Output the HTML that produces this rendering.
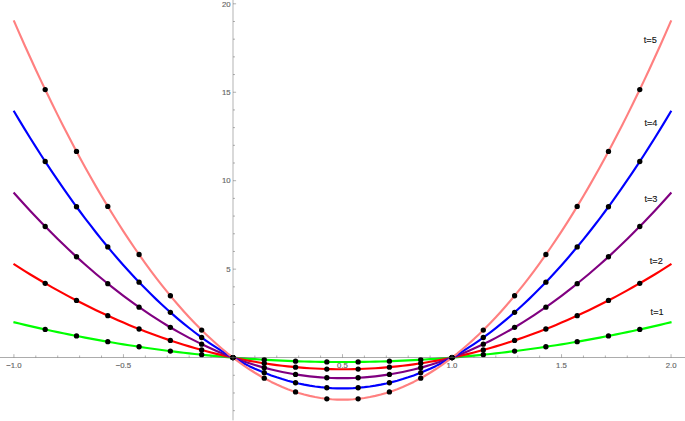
<!DOCTYPE html><html><head><meta charset="utf-8"><title>plot</title><style>html,body{margin:0;padding:0;background:#fff}svg{display:block}</style></head><body>
<svg width="685" height="421" viewBox="0 0 685 421">
<rect width="685" height="421" fill="#fff"/>
<polyline points="13.42,322.10 19.39,323.54 24.86,324.83 30.34,326.10 35.81,327.35 41.29,328.58 46.77,329.78 52.24,330.97 57.72,332.13 63.20,333.27 68.67,334.38 74.15,335.48 79.62,336.55 85.10,337.60 90.58,338.63 96.05,339.63 101.53,340.62 107.01,341.58 112.48,342.52 117.96,343.44 123.44,344.33 128.91,345.21 134.39,346.06 139.86,346.89 145.34,347.69 150.82,348.48 156.29,349.24 161.77,349.98 167.25,350.70 172.72,351.40 178.20,352.07 183.67,352.72 189.15,353.35 194.63,353.96 200.10,354.55 205.58,355.11 211.06,355.65 216.53,356.17 222.01,356.67 227.48,357.15 232.96,357.60 238.44,358.03 243.91,358.44 249.39,358.83 254.87,359.19 260.34,359.53 265.82,359.86 271.29,360.15 276.77,360.43 282.25,360.68 287.72,360.92 293.20,361.13 298.68,361.31 304.15,361.48 309.63,361.62 315.10,361.75 320.58,361.85 326.06,361.92 331.53,361.98 337.01,362.01 342.49,362.02 347.96,362.01 353.44,361.98 358.91,361.92 364.39,361.85 369.87,361.75 375.34,361.62 380.82,361.48 386.30,361.31 391.77,361.13 397.25,360.92 402.72,360.68 408.20,360.43 413.68,360.15 419.15,359.86 424.63,359.53 430.11,359.19 435.58,358.83 441.06,358.44 446.53,358.03 452.01,357.60 457.49,357.15 462.96,356.67 468.44,356.17 473.92,355.65 479.39,355.11 484.87,354.55 490.34,353.96 495.82,353.35 501.30,352.72 506.77,352.07 512.25,351.40 517.73,350.70 523.20,349.98 528.68,349.24 534.15,348.48 539.63,347.69 545.11,346.89 550.58,346.06 556.06,345.21 561.54,344.33 567.01,343.44 572.49,342.52 577.96,341.58 583.44,340.62 588.92,339.63 594.39,338.63 599.87,337.60 605.35,336.55 610.82,335.48 616.30,334.38 621.77,333.27 627.25,332.13 632.73,330.97 638.20,329.78 643.68,328.58 649.15,327.35 654.63,326.10 660.11,324.83 665.58,323.54 671.55,322.10" fill="none" stroke="#00ff00" stroke-width="2.15" stroke-linejoin="round"/>
<polyline points="13.49,263.96 19.39,267.70 24.86,271.12 30.34,274.47 35.81,277.77 41.29,281.01 46.77,284.19 52.24,287.31 57.72,290.37 63.20,293.38 68.67,296.33 74.15,299.22 79.62,302.05 85.10,304.82 90.58,307.53 96.05,310.19 101.53,312.78 107.01,315.32 112.48,317.80 117.96,320.22 123.44,322.59 128.91,324.89 134.39,327.14 139.86,329.33 145.34,331.46 150.82,333.53 156.29,335.54 161.77,337.50 167.25,339.39 172.72,341.23 178.20,343.01 183.67,344.73 189.15,346.40 194.63,348.00 200.10,349.55 205.58,351.04 211.06,352.46 216.53,353.84 222.01,355.15 227.48,356.40 232.96,357.60 238.44,358.74 243.91,359.82 249.39,360.84 254.87,361.80 260.34,362.71 265.82,363.55 271.29,364.34 276.77,365.07 282.25,365.74 287.72,366.35 293.20,366.91 298.68,367.40 304.15,367.84 309.63,368.22 315.10,368.54 320.58,368.80 326.06,369.01 331.53,369.15 337.01,369.24 342.49,369.27 347.96,369.24 353.44,369.15 358.91,369.01 364.39,368.80 369.87,368.54 375.34,368.22 380.82,367.84 386.30,367.40 391.77,366.91 397.25,366.35 402.72,365.74 408.20,365.07 413.68,364.34 419.15,363.55 424.63,362.71 430.11,361.80 435.58,360.84 441.06,359.82 446.53,358.74 452.01,357.60 457.49,356.40 462.96,355.15 468.44,353.84 473.92,352.46 479.39,351.04 484.87,349.55 490.34,348.00 495.82,346.40 501.30,344.73 506.77,343.01 512.25,341.23 517.73,339.39 523.20,337.50 528.68,335.54 534.15,333.53 539.63,331.46 545.11,329.33 550.58,327.14 556.06,324.89 561.54,322.59 567.01,320.22 572.49,317.80 577.96,315.32 583.44,312.78 588.92,310.19 594.39,307.53 599.87,304.82 605.35,302.05 610.82,299.22 616.30,296.33 621.77,293.38 627.25,290.37 632.73,287.31 638.20,284.19 643.68,281.01 649.15,277.77 654.63,274.47 660.11,271.12 665.58,267.70 671.48,263.96" fill="none" stroke="#ff0000" stroke-width="2.15" stroke-linejoin="round"/>
<polyline points="13.58,192.51 19.39,199.01 24.86,205.03 30.34,210.95 35.81,216.77 41.29,222.48 46.77,228.09 52.24,233.60 57.72,239.01 63.20,244.31 68.67,249.51 74.15,254.60 79.62,259.60 85.10,264.49 90.58,269.27 96.05,273.96 101.53,278.54 107.01,283.02 112.48,287.39 117.96,291.66 123.44,295.83 128.91,299.90 134.39,303.86 139.86,307.72 145.34,311.48 150.82,315.13 156.29,318.69 161.77,322.14 167.25,325.48 172.72,328.72 178.20,331.86 183.67,334.90 189.15,337.83 194.63,340.67 200.10,343.39 205.58,346.02 211.06,348.54 216.53,350.96 222.01,353.28 227.48,355.49 232.96,357.60 238.44,359.61 243.91,361.51 249.39,363.31 254.87,365.01 260.34,366.61 265.82,368.10 271.29,369.49 276.77,370.78 282.25,371.96 287.72,373.04 293.20,374.02 298.68,374.89 304.15,375.67 309.63,376.34 315.10,376.90 320.58,377.37 326.06,377.73 331.53,377.98 337.01,378.14 342.49,378.19 347.96,378.14 353.44,377.98 358.91,377.73 364.39,377.37 369.87,376.90 375.34,376.34 380.82,375.67 386.30,374.89 391.77,374.02 397.25,373.04 402.72,371.96 408.20,370.78 413.68,369.49 419.15,368.10 424.63,366.61 430.11,365.01 435.58,363.31 441.06,361.51 446.53,359.61 452.01,357.60 457.49,355.49 462.96,353.28 468.44,350.96 473.92,348.54 479.39,346.02 484.87,343.39 490.34,340.67 495.82,337.83 501.30,334.90 506.77,331.86 512.25,328.72 517.73,325.48 523.20,322.14 528.68,318.69 534.15,315.13 539.63,311.48 545.11,307.72 550.58,303.86 556.06,299.90 561.54,295.83 567.01,291.66 572.49,287.39 577.96,283.02 583.44,278.54 588.92,273.96 594.39,269.27 599.87,264.49 605.35,259.60 610.82,254.60 616.30,249.51 621.77,244.31 627.25,239.01 632.73,233.60 638.20,228.09 643.68,222.48 649.15,216.77 654.63,210.95 660.11,205.03 665.58,199.01 671.39,192.51" fill="none" stroke="#800080" stroke-width="2.15" stroke-linejoin="round"/>
<polyline points="13.65,110.77 19.39,120.36 24.86,129.37 30.34,138.23 35.81,146.93 41.29,155.47 46.77,163.87 52.24,172.11 57.72,180.19 63.20,188.12 68.67,195.90 74.15,203.52 79.62,210.99 85.10,218.31 90.58,225.47 96.05,232.47 101.53,239.33 107.01,246.03 112.48,252.57 117.96,258.96 123.44,265.20 128.91,271.28 134.39,277.21 139.86,282.99 145.34,288.61 150.82,294.07 156.29,299.39 161.77,304.55 167.25,309.55 172.72,314.40 178.20,319.10 183.67,323.64 189.15,328.03 194.63,332.27 200.10,336.35 205.58,340.27 211.06,344.05 216.53,347.67 222.01,351.13 227.48,354.44 232.96,357.60 238.44,360.60 243.91,363.45 249.39,366.15 254.87,368.69 260.34,371.08 265.82,373.31 271.29,375.39 276.77,377.31 282.25,379.08 287.72,380.70 293.20,382.16 298.68,383.47 304.15,384.63 309.63,385.63 315.10,386.48 320.58,387.17 326.06,387.71 331.53,388.09 337.01,388.32 342.49,388.40 347.96,388.32 353.44,388.09 358.91,387.71 364.39,387.17 369.87,386.48 375.34,385.63 380.82,384.63 386.30,383.47 391.77,382.16 397.25,380.70 402.72,379.08 408.20,377.31 413.68,375.39 419.15,373.31 424.63,371.08 430.11,368.69 435.58,366.15 441.06,363.45 446.53,360.60 452.01,357.60 457.49,354.44 462.96,351.13 468.44,347.67 473.92,344.05 479.39,340.27 484.87,336.35 490.34,332.27 495.82,328.03 501.30,323.64 506.77,319.10 512.25,314.40 517.73,309.55 523.20,304.55 528.68,299.39 534.15,294.07 539.63,288.61 545.11,282.99 550.58,277.21 556.06,271.28 561.54,265.20 567.01,258.96 572.49,252.57 577.96,246.03 583.44,239.33 588.92,232.47 594.39,225.47 599.87,218.31 605.35,210.99 610.82,203.52 616.30,195.90 621.77,188.12 627.25,180.19 632.73,172.11 638.20,163.87 643.68,155.47 649.15,146.93 654.63,138.23 660.11,129.37 665.58,120.36 671.32,110.77" fill="none" stroke="#0000ff" stroke-width="2.15" stroke-linejoin="round"/>
<polyline points="13.71,20.40 19.39,33.38 24.86,45.69 30.34,57.79 35.81,69.68 41.29,81.36 46.77,92.83 52.24,104.09 57.72,115.14 63.20,125.98 68.67,136.61 74.15,147.03 79.62,157.24 85.10,167.23 90.58,177.02 96.05,186.60 101.53,195.96 107.01,205.12 112.48,214.06 117.96,222.80 123.44,231.32 128.91,239.63 134.39,247.74 139.86,255.63 145.34,263.31 150.82,270.78 156.29,278.04 161.77,285.09 167.25,291.93 172.72,298.56 178.20,304.98 183.67,311.19 189.15,317.19 194.63,322.98 200.10,328.56 205.58,333.92 211.06,339.08 216.53,344.02 222.01,348.76 227.48,353.29 232.96,357.60 238.44,361.70 243.91,365.60 249.39,369.28 254.87,372.75 260.34,376.02 265.82,379.07 271.29,381.91 276.77,384.54 282.25,386.96 287.72,389.17 293.20,391.17 298.68,392.96 304.15,394.54 309.63,395.90 315.10,397.06 320.58,398.01 326.06,398.75 331.53,399.27 337.01,399.59 342.49,399.69 347.96,399.59 353.44,399.27 358.91,398.75 364.39,398.01 369.87,397.06 375.34,395.90 380.82,394.54 386.30,392.96 391.77,391.17 397.25,389.17 402.72,386.96 408.20,384.54 413.68,381.91 419.15,379.07 424.63,376.02 430.11,372.75 435.58,369.28 441.06,365.60 446.53,361.70 452.01,357.60 457.49,353.29 462.96,348.76 468.44,344.02 473.92,339.08 479.39,333.92 484.87,328.56 490.34,322.98 495.82,317.19 501.30,311.19 506.77,304.98 512.25,298.56 517.73,291.93 523.20,285.09 528.68,278.04 534.15,270.78 539.63,263.31 545.11,255.63 550.58,247.74 556.06,239.63 561.54,231.32 567.01,222.80 572.49,214.06 577.96,205.12 583.44,195.96 588.92,186.60 594.39,177.02 599.87,167.23 605.35,157.24 610.82,147.03 616.30,136.61 621.77,125.98 627.25,115.14 632.73,104.09 638.20,92.83 643.68,81.36 649.15,69.68 654.63,57.79 660.11,45.69 665.58,33.38 671.26,20.40" fill="none" stroke="#ff8080" stroke-width="2.15" stroke-linejoin="round"/>
<circle cx="45.20" cy="329.44" r="2.65" fill="#000"/>
<circle cx="76.50" cy="335.94" r="2.65" fill="#000"/>
<circle cx="107.79" cy="341.72" r="2.65" fill="#000"/>
<circle cx="139.08" cy="346.77" r="2.65" fill="#000"/>
<circle cx="170.37" cy="351.10" r="2.65" fill="#000"/>
<circle cx="201.67" cy="354.71" r="2.65" fill="#000"/>
<circle cx="232.96" cy="357.60" r="2.65" fill="#000"/>
<circle cx="264.25" cy="359.77" r="2.65" fill="#000"/>
<circle cx="295.55" cy="361.21" r="2.65" fill="#000"/>
<circle cx="326.84" cy="361.93" r="2.65" fill="#000"/>
<circle cx="358.13" cy="361.93" r="2.65" fill="#000"/>
<circle cx="389.42" cy="361.21" r="2.65" fill="#000"/>
<circle cx="420.72" cy="359.77" r="2.65" fill="#000"/>
<circle cx="452.01" cy="357.60" r="2.65" fill="#000"/>
<circle cx="483.30" cy="354.71" r="2.65" fill="#000"/>
<circle cx="514.60" cy="351.10" r="2.65" fill="#000"/>
<circle cx="545.89" cy="346.77" r="2.65" fill="#000"/>
<circle cx="577.18" cy="341.72" r="2.65" fill="#000"/>
<circle cx="608.47" cy="335.94" r="2.65" fill="#000"/>
<circle cx="639.77" cy="329.44" r="2.65" fill="#000"/>
<circle cx="45.20" cy="283.29" r="2.65" fill="#000"/>
<circle cx="76.50" cy="300.44" r="2.65" fill="#000"/>
<circle cx="107.79" cy="315.68" r="2.65" fill="#000"/>
<circle cx="139.08" cy="329.02" r="2.65" fill="#000"/>
<circle cx="170.37" cy="340.45" r="2.65" fill="#000"/>
<circle cx="201.67" cy="349.98" r="2.65" fill="#000"/>
<circle cx="232.96" cy="357.60" r="2.65" fill="#000"/>
<circle cx="264.25" cy="363.32" r="2.65" fill="#000"/>
<circle cx="295.55" cy="367.13" r="2.65" fill="#000"/>
<circle cx="326.84" cy="369.03" r="2.65" fill="#000"/>
<circle cx="358.13" cy="369.03" r="2.65" fill="#000"/>
<circle cx="389.42" cy="367.13" r="2.65" fill="#000"/>
<circle cx="420.72" cy="363.32" r="2.65" fill="#000"/>
<circle cx="452.01" cy="357.60" r="2.65" fill="#000"/>
<circle cx="483.30" cy="349.98" r="2.65" fill="#000"/>
<circle cx="514.60" cy="340.45" r="2.65" fill="#000"/>
<circle cx="545.89" cy="329.02" r="2.65" fill="#000"/>
<circle cx="577.18" cy="315.68" r="2.65" fill="#000"/>
<circle cx="608.47" cy="300.44" r="2.65" fill="#000"/>
<circle cx="639.77" cy="283.29" r="2.65" fill="#000"/>
<circle cx="45.20" cy="226.50" r="2.65" fill="#000"/>
<circle cx="76.50" cy="256.76" r="2.65" fill="#000"/>
<circle cx="107.79" cy="283.65" r="2.65" fill="#000"/>
<circle cx="139.08" cy="307.18" r="2.65" fill="#000"/>
<circle cx="170.37" cy="327.35" r="2.65" fill="#000"/>
<circle cx="201.67" cy="344.15" r="2.65" fill="#000"/>
<circle cx="232.96" cy="357.60" r="2.65" fill="#000"/>
<circle cx="264.25" cy="367.68" r="2.65" fill="#000"/>
<circle cx="295.55" cy="374.41" r="2.65" fill="#000"/>
<circle cx="326.84" cy="377.77" r="2.65" fill="#000"/>
<circle cx="358.13" cy="377.77" r="2.65" fill="#000"/>
<circle cx="389.42" cy="374.41" r="2.65" fill="#000"/>
<circle cx="420.72" cy="367.68" r="2.65" fill="#000"/>
<circle cx="452.01" cy="357.60" r="2.65" fill="#000"/>
<circle cx="483.30" cy="344.15" r="2.65" fill="#000"/>
<circle cx="514.60" cy="327.35" r="2.65" fill="#000"/>
<circle cx="545.89" cy="307.18" r="2.65" fill="#000"/>
<circle cx="577.18" cy="283.65" r="2.65" fill="#000"/>
<circle cx="608.47" cy="256.76" r="2.65" fill="#000"/>
<circle cx="639.77" cy="226.50" r="2.65" fill="#000"/>
<circle cx="45.20" cy="161.49" r="2.65" fill="#000"/>
<circle cx="76.50" cy="206.74" r="2.65" fill="#000"/>
<circle cx="107.79" cy="246.97" r="2.65" fill="#000"/>
<circle cx="139.08" cy="282.17" r="2.65" fill="#000"/>
<circle cx="170.37" cy="312.34" r="2.65" fill="#000"/>
<circle cx="201.67" cy="337.49" r="2.65" fill="#000"/>
<circle cx="232.96" cy="357.60" r="2.65" fill="#000"/>
<circle cx="264.25" cy="372.69" r="2.65" fill="#000"/>
<circle cx="295.55" cy="382.74" r="2.65" fill="#000"/>
<circle cx="326.84" cy="387.77" r="2.65" fill="#000"/>
<circle cx="358.13" cy="387.77" r="2.65" fill="#000"/>
<circle cx="389.42" cy="382.74" r="2.65" fill="#000"/>
<circle cx="420.72" cy="372.69" r="2.65" fill="#000"/>
<circle cx="452.01" cy="357.60" r="2.65" fill="#000"/>
<circle cx="483.30" cy="337.49" r="2.65" fill="#000"/>
<circle cx="514.60" cy="312.34" r="2.65" fill="#000"/>
<circle cx="545.89" cy="282.17" r="2.65" fill="#000"/>
<circle cx="577.18" cy="246.97" r="2.65" fill="#000"/>
<circle cx="608.47" cy="206.74" r="2.65" fill="#000"/>
<circle cx="639.77" cy="161.49" r="2.65" fill="#000"/>
<circle cx="45.20" cy="89.58" r="2.65" fill="#000"/>
<circle cx="76.50" cy="151.43" r="2.65" fill="#000"/>
<circle cx="107.79" cy="206.41" r="2.65" fill="#000"/>
<circle cx="139.08" cy="254.51" r="2.65" fill="#000"/>
<circle cx="170.37" cy="295.75" r="2.65" fill="#000"/>
<circle cx="201.67" cy="330.11" r="2.65" fill="#000"/>
<circle cx="232.96" cy="357.60" r="2.65" fill="#000"/>
<circle cx="264.25" cy="378.22" r="2.65" fill="#000"/>
<circle cx="295.55" cy="391.96" r="2.65" fill="#000"/>
<circle cx="326.84" cy="398.83" r="2.65" fill="#000"/>
<circle cx="358.13" cy="398.83" r="2.65" fill="#000"/>
<circle cx="389.42" cy="391.96" r="2.65" fill="#000"/>
<circle cx="420.72" cy="378.22" r="2.65" fill="#000"/>
<circle cx="452.01" cy="357.60" r="2.65" fill="#000"/>
<circle cx="483.30" cy="330.11" r="2.65" fill="#000"/>
<circle cx="514.60" cy="295.75" r="2.65" fill="#000"/>
<circle cx="545.89" cy="254.51" r="2.65" fill="#000"/>
<circle cx="577.18" cy="206.41" r="2.65" fill="#000"/>
<circle cx="608.47" cy="151.43" r="2.65" fill="#000"/>
<circle cx="639.77" cy="89.58" r="2.65" fill="#000"/>
<g stroke="#666" fill="none">
<line x1="0" x2="685" y1="357.5" y2="357.5" stroke-width="0.55"/>
<line x1="233" x2="233" y1="0" y2="420.4" stroke-width="0.5"/>
<line x1="13.91" x2="13.91" y1="357.5" y2="354.20" stroke-width="0.5"/>
<line x1="35.81" x2="35.81" y1="357.5" y2="355.50" stroke-width="0.5"/>
<line x1="57.72" x2="57.72" y1="357.5" y2="355.50" stroke-width="0.5"/>
<line x1="79.62" x2="79.62" y1="357.5" y2="355.50" stroke-width="0.5"/>
<line x1="101.53" x2="101.53" y1="357.5" y2="355.50" stroke-width="0.5"/>
<line x1="123.44" x2="123.44" y1="357.5" y2="354.20" stroke-width="0.5"/>
<line x1="145.34" x2="145.34" y1="357.5" y2="355.50" stroke-width="0.5"/>
<line x1="167.25" x2="167.25" y1="357.5" y2="355.50" stroke-width="0.5"/>
<line x1="189.15" x2="189.15" y1="357.5" y2="355.50" stroke-width="0.5"/>
<line x1="211.06" x2="211.06" y1="357.5" y2="355.50" stroke-width="0.5"/>
<line x1="254.87" x2="254.87" y1="357.5" y2="355.50" stroke-width="0.5"/>
<line x1="276.77" x2="276.77" y1="357.5" y2="355.50" stroke-width="0.5"/>
<line x1="298.68" x2="298.68" y1="357.5" y2="355.50" stroke-width="0.5"/>
<line x1="320.58" x2="320.58" y1="357.5" y2="355.50" stroke-width="0.5"/>
<line x1="342.49" x2="342.49" y1="357.5" y2="354.20" stroke-width="0.5"/>
<line x1="364.39" x2="364.39" y1="357.5" y2="355.50" stroke-width="0.5"/>
<line x1="386.30" x2="386.30" y1="357.5" y2="355.50" stroke-width="0.5"/>
<line x1="408.20" x2="408.20" y1="357.5" y2="355.50" stroke-width="0.5"/>
<line x1="430.11" x2="430.11" y1="357.5" y2="355.50" stroke-width="0.5"/>
<line x1="452.01" x2="452.01" y1="357.5" y2="354.20" stroke-width="0.5"/>
<line x1="473.92" x2="473.92" y1="357.5" y2="355.50" stroke-width="0.5"/>
<line x1="495.82" x2="495.82" y1="357.5" y2="355.50" stroke-width="0.5"/>
<line x1="517.73" x2="517.73" y1="357.5" y2="355.50" stroke-width="0.5"/>
<line x1="539.63" x2="539.63" y1="357.5" y2="355.50" stroke-width="0.5"/>
<line x1="561.54" x2="561.54" y1="357.5" y2="354.20" stroke-width="0.5"/>
<line x1="583.44" x2="583.44" y1="357.5" y2="355.50" stroke-width="0.5"/>
<line x1="605.35" x2="605.35" y1="357.5" y2="355.50" stroke-width="0.5"/>
<line x1="627.25" x2="627.25" y1="357.5" y2="355.50" stroke-width="0.5"/>
<line x1="649.15" x2="649.15" y1="357.5" y2="355.50" stroke-width="0.5"/>
<line x1="671.06" x2="671.06" y1="357.5" y2="354.20" stroke-width="0.5"/>
<line x1="233" x2="235.00" y1="410.67" y2="410.67" stroke-width="0.5"/>
<line x1="233" x2="235.00" y1="392.98" y2="392.98" stroke-width="0.5"/>
<line x1="233" x2="235.00" y1="375.29" y2="375.29" stroke-width="0.5"/>
<line x1="233" x2="235.00" y1="339.91" y2="339.91" stroke-width="0.5"/>
<line x1="233" x2="235.00" y1="322.22" y2="322.22" stroke-width="0.5"/>
<line x1="233" x2="235.00" y1="304.53" y2="304.53" stroke-width="0.5"/>
<line x1="233" x2="235.00" y1="286.84" y2="286.84" stroke-width="0.5"/>
<line x1="233" x2="236.10" y1="269.15" y2="269.15" stroke-width="0.5"/>
<line x1="233" x2="235.00" y1="251.46" y2="251.46" stroke-width="0.5"/>
<line x1="233" x2="235.00" y1="233.77" y2="233.77" stroke-width="0.5"/>
<line x1="233" x2="235.00" y1="216.08" y2="216.08" stroke-width="0.5"/>
<line x1="233" x2="235.00" y1="198.39" y2="198.39" stroke-width="0.5"/>
<line x1="233" x2="236.10" y1="180.70" y2="180.70" stroke-width="0.5"/>
<line x1="233" x2="235.00" y1="163.01" y2="163.01" stroke-width="0.5"/>
<line x1="233" x2="235.00" y1="145.32" y2="145.32" stroke-width="0.5"/>
<line x1="233" x2="235.00" y1="127.63" y2="127.63" stroke-width="0.5"/>
<line x1="233" x2="235.00" y1="109.94" y2="109.94" stroke-width="0.5"/>
<line x1="233" x2="236.10" y1="92.25" y2="92.25" stroke-width="0.5"/>
<line x1="233" x2="235.00" y1="74.56" y2="74.56" stroke-width="0.5"/>
<line x1="233" x2="235.00" y1="56.87" y2="56.87" stroke-width="0.5"/>
<line x1="233" x2="235.00" y1="39.18" y2="39.18" stroke-width="0.5"/>
<line x1="233" x2="235.00" y1="21.49" y2="21.49" stroke-width="0.5"/>
<line x1="233" x2="236.10" y1="3.80" y2="3.80" stroke-width="0.5"/>
</g>
<g font-family="&quot;Liberation Sans&quot;, sans-serif" font-size="7.8" fill="#666" stroke="#666" stroke-width="0.15" stroke-linejoin="round">
<text x="6.21" y="367.80">−1.0</text>
<text x="115.74" y="367.80">−0.5</text>
<text x="337.06" y="367.80">0.5</text>
<text x="446.59" y="367.80">1.0</text>
<text x="556.11" y="367.80">1.5</text>
<text x="665.64" y="367.80">2.0</text>
<text x="226.26" y="271.85">5</text>
<text x="221.92" y="183.40">10</text>
<text x="221.92" y="94.95">15</text>
<text x="221.92" y="6.50">20</text>
</g>
<g font-family="&quot;Liberation Sans&quot;, sans-serif" font-size="9.2" fill="#111" stroke="#111" stroke-width="0.12" stroke-linejoin="round">
<text x="643.80" y="42.80">t=5</text>
<text x="644.40" y="126.00">t=4</text>
<text x="644.40" y="201.90">t=3</text>
<text x="649.80" y="264.10">t=2</text>
<text x="650.60" y="314.70">t=1</text>
</g>
</svg></body></html>
